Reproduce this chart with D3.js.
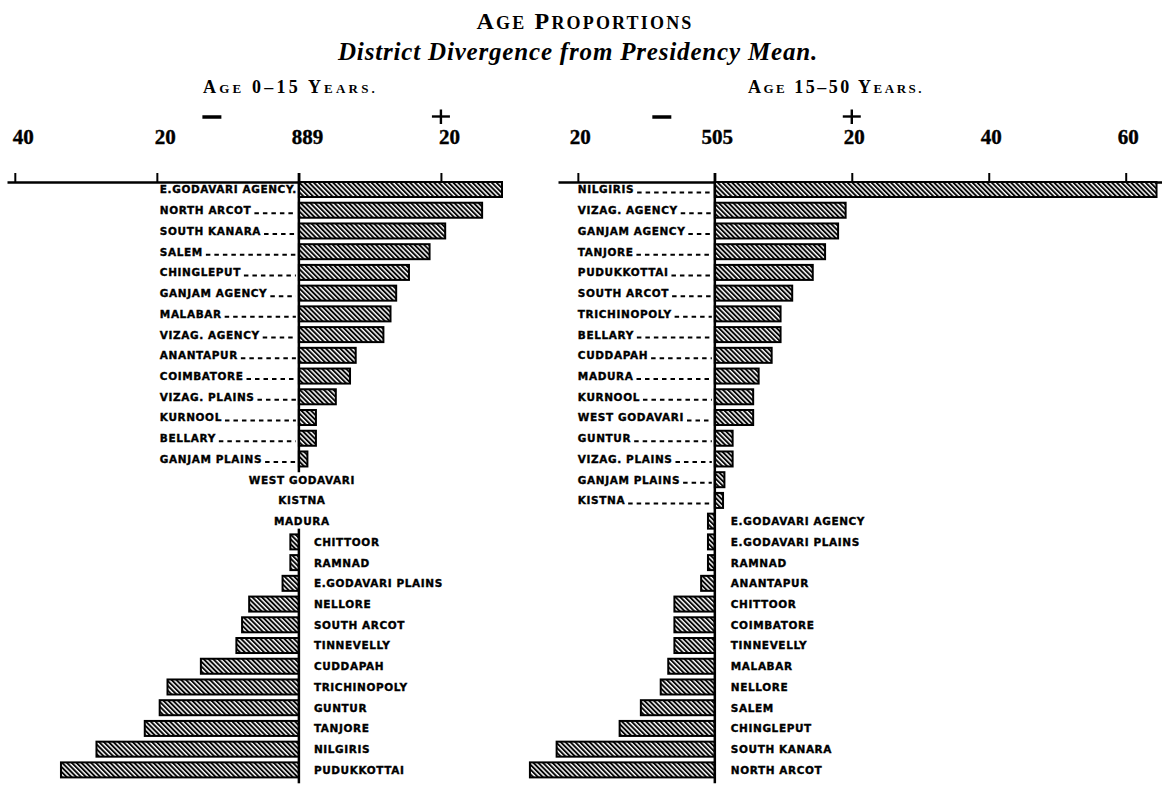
<!DOCTYPE html>
<html>
<head>
<meta charset="utf-8">
<script src="https://cdn.jsdelivr.net/npm/d3@7"></script>
<style>
  html, body { margin: 0; padding: 0; background: #fff; }
  svg { display: block; }
  .serif { font-family: "Liberation Serif", "DejaVu Serif", serif; font-weight: bold; fill: #000; }
  .lbl { font-family: "DejaVu Sans", sans-serif; font-weight: bold; font-size: 10.5px; letter-spacing: 0.6px; fill: #000; stroke: #000; stroke-width: 0.35px; }
  .num { font-family: "Liberation Serif", serif; font-weight: bold; font-size: 21px; fill: #000; stroke: #000; stroke-width: 0.4px; }
</style>
</head>
<body>
<svg id="chart" width="1162" height="785"></svg>
<script>
// Age 0–15: divergence of each district from the Presidency mean (889)
const youngDistricts = [
  "E.GODAVARI AGENCY.", "NORTH ARCOT", "SOUTH KANARA", "SALEM", "CHINGLEPUT",
  "GANJAM AGENCY", "MALABAR", "VIZAG. AGENCY", "ANANTAPUR", "COIMBATORE",
  "VIZAG. PLAINS", "KURNOOL", "BELLARY", "GANJAM PLAINS",
  "WEST GODAVARI", "KISTNA", "MADURA",
  "CHITTOOR", "RAMNAD", "E.GODAVARI PLAINS", "NELLORE", "SOUTH ARCOT",
  "TINNEVELLY", "CUDDAPAH", "TRICHINOPOLY", "GUNTUR", "TANJORE",
  "NILGIRIS", "PUDUKKOTTAI"
];
const youngValues = [
  28.6, 25.8, 20.6, 18.4, 15.5,
  13.7, 12.9, 11.9, 8.0, 7.2,
  5.2, 2.4, 2.4, 1.2,
  0, 0, 0,
  -1.2, -1.2, -2.3, -7.0, -8.0,
  -8.8, -13.8, -18.5, -19.6, -21.7,
  -28.5, -33.5
];

// Age 15–50: divergence of each district from the Presidency mean (505)
const adultDistricts = [
  "NILGIRIS", "VIZAG. AGENCY", "GANJAM AGENCY", "TANJORE", "PUDUKKOTTAI",
  "SOUTH ARCOT", "TRICHINOPOLY", "BELLARY", "CUDDAPAH", "MADURA",
  "KURNOOL", "WEST GODAVARI", "GUNTUR", "VIZAG. PLAINS", "GANJAM PLAINS", "KISTNA",
  "E.GODAVARI AGENCY", "E.GODAVARI PLAINS", "RAMNAD", "ANANTAPUR", "CHITTOOR",
  "COIMBATORE", "TINNEVELLY", "MALABAR", "NELLORE", "SALEM",
  "CHINGLEPUT", "SOUTH KANARA", "NORTH ARCOT"
];
const adultValues = [
  64.5, 19.1, 18.0, 16.1, 14.3,
  11.3, 9.6, 9.6, 8.3, 6.4,
  5.6, 5.6, 2.6, 2.6, 1.4, 1.2,
  -1.0, -1.0, -1.0, -2.0, -5.9,
  -5.9, -5.9, -6.8, -7.9, -10.8,
  -13.9, -23.1, -27.0
];

const youngTickValues = [-40, -20, 0, 20];
const youngTickLabels = ["40", "20", "889", "20"];
const adultTickValues = [-20, 0, 20, 40, 60];
const adultTickLabels = ["20", "505", "20", "40", "60"];

const svg = d3.select("#chart");

// diagonal hatching used to fill every bar
const defs = svg.append("defs");
const hatch = defs.append("pattern")
  .attr("id", "hatch")
  .attr("patternUnits", "userSpaceOnUse")
  .attr("width", 3.4).attr("height", 3.4)
  .attr("patternTransform", "rotate(-45)");
hatch.append("rect").attr("width", 3.4).attr("height", 3.4).attr("fill", "#fff");
hatch.append("line")
  .attr("x1", 1).attr("y1", 0).attr("x2", 1).attr("y2", 3.4)
  .attr("stroke", "#000").attr("stroke-width", 1.9);

// headings set in small capitals, spaced out to a given width
function heading(x, y, parts, big, small, width) {
  const t = svg.append("text").attr("class", "serif")
    .attr("x", x).attr("y", y).attr("text-anchor", "middle");
  parts.forEach(([s, isBig]) => t.append("tspan").attr("font-size", isBig ? big : small).text(s));
  const n = parts.reduce((a, p) => a + p[0].length, 0);
  const w = t.node().getComputedTextLength();
  t.attr("letter-spacing", (width - w) / n);
  return t;
}

heading(585, 29, [["A", 1], ["GE", 0], [" ", 1], ["P", 1], ["ROPORTIONS", 0]], 24, 18, 217);

const sub = svg.append("text").attr("class", "serif")
  .attr("x", 578).attr("y", 60).attr("text-anchor", "middle")
  .attr("font-style", "italic").attr("font-size", 25)
  .text("District Divergence from Presidency Mean.");
{
  const w = sub.node().getComputedTextLength();
  sub.attr("letter-spacing", (480 - w) / sub.text().length);
}

heading(290.5, 93, [["A", 1], ["GE", 0], [" 0–15 ", 1], ["Y", 1], ["EARS.", 0]], 18, 13, 175);
heading(836, 93, [["A", 1], ["GE", 0], [" 15–50 ", 1], ["Y", 1], ["EARS.", 0]], 18, 13, 176);

const axisY = 182;

const panels = [
  {
    names: youngDistricts, values: youngValues,
    ticks: youngTickValues, tickLabels: youngTickLabels,
    x: d3.scaleLinear().domain([-41.1, d3.max(youngValues)]).range([7, 502]),
    labelDx: 8, posLabelShift: 3, negLabelGap: 15, minusOffset: -87
  },
  {
    names: adultDistricts, values: adultValues,
    ticks: adultTickValues, tickLabels: adultTickLabels,
    x: d3.scaleLinear().domain([-22.9, 65.3]).range([558, 1162]),
    labelDx: 2, posLabelShift: 0, negLabelGap: 16, minusOffset: -53
  }
];

panels.forEach(p => {
  const x = p.x;
  const y = d3.scaleBand()
    .domain(d3.range(p.names.length))
    .range([179.1, 780.3])
    .paddingInner(0.276)
    .paddingOuter(0.14);
  const x0 = x(0);
  const g = svg.append("g");

  // top axis with the deviation scale
  const axis = d3.axisTop(x)
    .tickValues(p.ticks)
    .tickSize(9)
    .tickSizeOuter(0)
    .tickPadding(29)
    .tickFormat((d, i) => p.tickLabels[i]);
  const ax = g.append("g").attr("transform", `translate(0,${axisY})`).call(axis);
  ax.select(".domain").attr("stroke", "#000").attr("stroke-width", 2.5);
  ax.selectAll(".tick line").attr("stroke", "#000").attr("stroke-width", 2);
  ax.selectAll(".tick text")
    .attr("class", "num")
    .attr("font-family", null).attr("font-size", null)
    .attr("fill", "#000")
    .attr("dx", p.labelDx);

  // minus and plus signs over the scale
  const mx = x0 + p.minusOffset;
  g.append("line").attr("x1", mx - 9.5).attr("x2", mx + 9.5)
    .attr("y1", 117).attr("y2", 117).attr("stroke", "#000").attr("stroke-width", 3.5);
  const px = x(20);
  g.append("line").attr("x1", px - 9).attr("x2", px + 9)
    .attr("y1", 116.5).attr("y2", 116.5).attr("stroke", "#000").attr("stroke-width", 2.4);
  g.append("line").attr("x1", px).attr("x2", px)
    .attr("y1", 109.5).attr("y2", 124).attr("stroke", "#000").attr("stroke-width", 2.4);

  const rows = p.names.map((name, i) => ({ name, value: p.values[i], i }));

  // bars
  g.selectAll("rect.bar")
    .data(rows.filter(d => d.value !== 0))
    .join("rect")
    .attr("class", "bar")
    .attr("x", d => Math.min(x(d.value), x0))
    .attr("width", d => Math.abs(x(d.value) - x0))
    .attr("y", d => y(d.i))
    .attr("height", y.bandwidth())
    .attr("fill", "url(#hatch)")
    .attr("stroke", "#000")
    .attr("stroke-width", 2);

  // zero line, broken where districts sit exactly on the mean
  const zeroRows = rows.filter(d => d.value === 0);
  const bottom = y.range()[1] + 3;
  const segs = [];
  if (zeroRows.length) {
    const first = d3.min(zeroRows, d => d.i), last = d3.max(zeroRows, d => d.i);
    segs.push([axisY - 9, y(first)]);
    segs.push([y(last) + y.bandwidth(), bottom]);
  } else {
    segs.push([axisY - 9, bottom]);
  }
  g.selectAll("line.zero").data(segs).join("line")
    .attr("class", "zero")
    .attr("x1", x0).attr("x2", x0)
    .attr("y1", d => d[0]).attr("y2", d => d[1])
    .attr("stroke", "#000").attr("stroke-width", 2.5);

  // district names, with dashed leaders running up to the zero line
  const labelStart = x(-20) + p.posLabelShift;
  rows.forEach(d => {
    const cy = y(d.i) + y.bandwidth() / 2;
    const base = cy + 3.9;
    if (d.value > 0) {
      const t = g.append("text").attr("class", "lbl")
        .attr("x", labelStart).attr("y", base).text(d.name);
      const end = labelStart + t.node().getComputedTextLength() + 3;
      if (x0 - 3 - end > 3) {
        g.append("line")
          .attr("x1", end).attr("x2", x0 - 3)
          .attr("y1", base - 0.9).attr("y2", base - 0.9)
          .attr("stroke", "#000").attr("stroke-width", 2)
          .attr("stroke-dasharray", "4.5,4");
      }
    } else if (d.value < 0) {
      g.append("text").attr("class", "lbl")
        .attr("x", x0 + p.negLabelGap).attr("y", base).text(d.name);
    } else {
      g.append("text").attr("class", "lbl")
        .attr("x", x0 + 3).attr("y", base)
        .attr("text-anchor", "middle").text(d.name);
    }
  });
});
</script>
</body>
</html>
